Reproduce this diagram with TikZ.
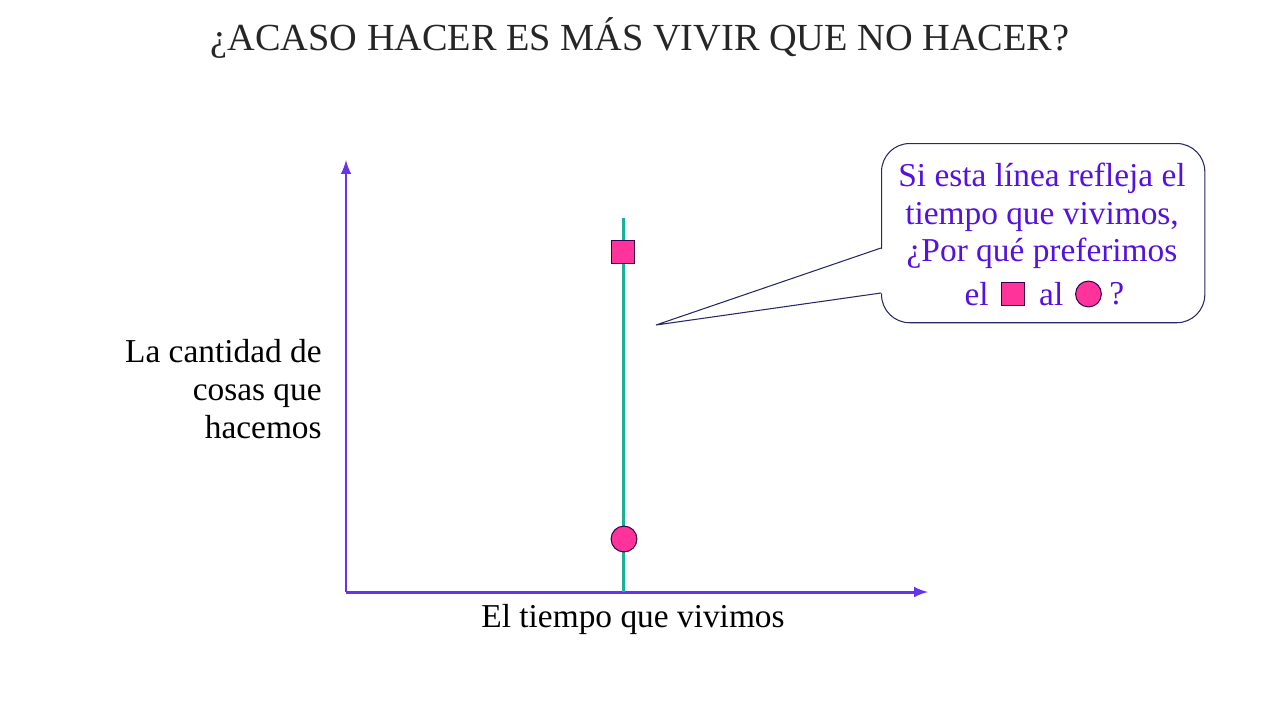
\documentclass[tikz,border=0pt]{standalone}
\usepackage{fontspec}
\setmainfont{Liberation Serif}
\usetikzlibrary{positioning}

\definecolor{ejevioleta}{RGB}{102,51,238}
\definecolor{lineaverde}{RGB}{26,178,150}
\definecolor{rosa}{RGB}{255,51,153}
\definecolor{bordeosc}{RGB}{51,0,85}
\definecolor{textoazul}{RGB}{85,17,221}
\definecolor{bordeglobo}{RGB}{40,40,100}

\tikzset{
  eje/.style={ejevioleta, line width=1.7pt, ->, >=latex},
  vida/.style={lineaverde, line width=1.7pt},
  cuadro/.style={draw=bordeosc, fill=rosa, line width=0.6pt, minimum size=12.8pt, inner sep=0pt},
  bola/.style={draw=bordeosc, fill=rosa, line width=0.6pt, circle, minimum size=14.7pt, inner sep=0pt},
  rotulo/.style={font=\fontsize{19}{21.5}\selectfont, inner sep=0pt},
  globotxt/.style={rotulo, textoazul, align=center},
}

\begin{document}
\begin{tikzpicture}[x=0.02cm, y=-0.02cm]
    \useasboundingbox (0,0) rectangle (1280,720);

    %titulo
    \node[font=\fontsize{21.8}{26}\selectfont, text=black!85] (titulo) at (640,38) {¿ACASO HACER ES MÁS VIVIR QUE NO HACER?};

    %ejes
    \coordinate (origen) at (346,592);
    \coordinate (ytope) at (346,160);
    \coordinate (xfin) at (928,592);
    \draw[eje] (origen) -- (ytope);
    \draw[eje] (origen) -- (xfin);

    \node[rotulo, anchor=north] (xlabel) at (633,604) {El tiempo que vivimos};
    \node[rotulo, anchor=east, align=right] (ylabel) at (322,389) {La cantidad de\\cosas que\\hacemos};

    %linea de vida
    \coordinate (vtope) at (623,218);
    \coordinate (vbase) at (623,592);
    \draw[vida] (vtope) -- (vbase);
    \node[cuadro] (hacer) at (623,252) {};
    \node[bola] (nohacer) at (624,539) {};

    %globo
    \node[draw=bordeglobo, line width=0.6pt, rounded corners=16pt, fill=white,
          minimum width=184pt, minimum height=102pt, anchor=north west] (globo) at (881,143) {};
    \coordinate (punta) at (656,325);
    \coordinate (pa) at (881,248);
    \coordinate (pb) at (881,293);
    \fill[white] ([xshift=2]pa) -- (punta) -- ([xshift=2]pb) -- cycle;
    \draw[bordeglobo, line width=0.6pt] (pa) -- (punta) -- (pb);

    \node[globotxt] (pregunta) at (1042,216) {Si esta línea refleja el\\tiempo que vivimos,\\¿Por qué preferimos};
    \node[cuadro] (elcuadro) at (1013,294) {};
    \node[globotxt, left=7pt of elcuadro] (el) {el};
    \node[globotxt, right=8pt of elcuadro] (al) {al};
    \node[bola, right=6.5pt of al] (albola) {};
    \node[globotxt, right=4pt of albola] (fin) {?};
\end{tikzpicture}
\end{document}
